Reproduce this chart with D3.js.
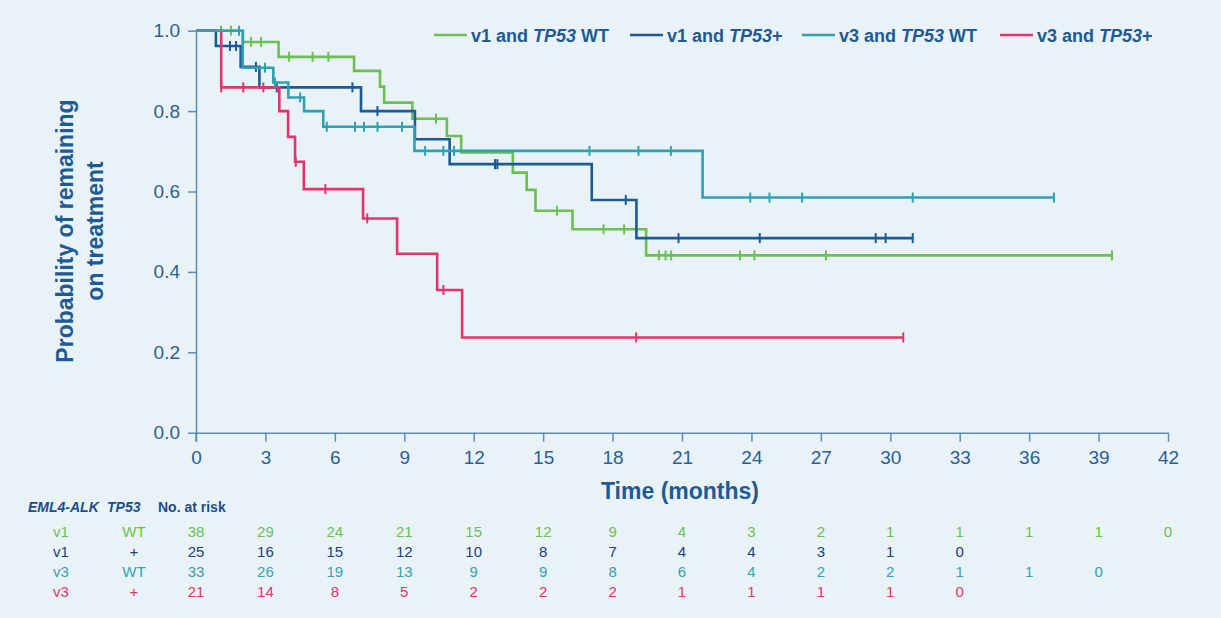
<!doctype html>
<html lang="en">
<head>
  <meta charset="utf-8">
  <title>Time on treatment by EML4-ALK variant and TP53 status</title>
  <script src="https://cdnjs.cloudflare.com/ajax/libs/d3/7.8.5/d3.min.js"></script>
  <style>
    body{
      margin:0;
      background:#e9f2f6;
    }
    svg text{
      font-family:"Liberation Sans", Arial, Helvetica, sans-serif;
    }
    .axis path,
    .axis line{
      stroke:#5b8cbc;
      stroke-width:1.5px;
    }
    .axis text{
      fill:#2b5f93;
      font-size:19px;
    }
  </style>
</head>
<body>
  <svg width="1221" height="618"></svg>
  <script>

  // time axis ticks (months)
  const xTicks=[0,3,6,9,12,15,18,21,24,27,30,33,36,39,42];
  const yTicks=[0,0.2,0.4,0.6,0.8,1.0];

  // v1 and TP53 WT : step times and survival after each step
  const v1wtTimes=[0,2.03,3.57,6.83,7.95,8.13,9.35,10.84,11.46,13.69,14.29,14.67,16.27,19.45];
  const v1wtSurv =[1,0.972,0.935,0.900,0.861,0.821,0.781,0.738,0.697,0.647,0.604,0.552,0.506,0.441];
  const v1wtCens =[1.08,1.51,2.38,2.81,4.02,5.04,5.72,10.37,15.6,17.61,18.5,20.0,20.29,20.53,23.51,24.13,27.22,39.58];

  // v1 and TP53+
  const v1mutTimes=[0,0.86,1.93,2.74,7.13,9.46,10.96,17.10,19.03];
  const v1mutSurv =[1,0.962,0.910,0.859,0.800,0.730,0.668,0.579,0.484];
  const v1mutCens =[1.47,1.73,2.59,3.49,6.76,7.84,12.92,13.02,18.57,20.85,24.36,29.37,29.8,30.97];

  // v3 and TP53 WT
  const v3wtTimes=[0,2.02,3.34,3.99,4.67,5.50,9.44,21.89];
  const v3wtSurv =[1,0.908,0.871,0.834,0.800,0.761,0.701,0.585];
  const v3wtCens =[1.86,2.98,3.41,4.50,5.65,6.87,7.26,7.84,8.9,9.9,10.69,11.15,17.0,19.12,20.52,23.95,24.78,26.19,30.97,37.07];

  // v3 and TP53+
  const v3mutTimes=[0,1.09,3.60,3.98,4.28,4.66,7.22,8.69,10.42,11.50];
  const v3mutSurv =[1,0.859,0.800,0.736,0.674,0.606,0.533,0.445,0.355,0.237];
  const v3mutCens =[1.09,2.04,2.91,4.31,5.59,7.40,10.69,19.02,30.56];

  // numbers at risk at each x tick
  const riskV1wt =[38,29,24,21,15,12,9,4,3,2,1,1,1,1,0];
  const riskV1mut=[25,16,15,12,10,8,7,4,4,3,1,0];
  const riskV3wt =[33,26,19,13,9,9,8,6,4,2,2,1,1,0];
  const riskV3mut=[21,14,8,5,2,2,2,1,1,1,1,0];

  const series=[
    {variant:"v1",tp53:"WT",legend:["v1 and ","TP53"," WT"],color:"#6cbf52",text:"#6cbf52",times:v1wtTimes,surv:v1wtSurv,cens:v1wtCens,risk:riskV1wt},
    {variant:"v1",tp53:"+",legend:["v1 and ","TP53","+"],color:"#1b5b96",text:"#1f3f7c",times:v1mutTimes,surv:v1mutSurv,cens:v1mutCens,risk:riskV1mut},
    {variant:"v3",tp53:"WT",legend:["v3 and ","TP53"," WT"],color:"#2ea2b1",text:"#35a3b0",times:v3wtTimes,surv:v3wtSurv,cens:v3wtCens,risk:riskV3wt},
    {variant:"v3",tp53:"+",legend:["v3 and ","TP53","+"],color:"#e4336e",text:"#e4336e",times:v3mutTimes,surv:v3mutSurv,cens:v3mutCens,risk:riskV3mut}
  ];
  // teal sits on top of the others in the original
  const drawOrder=[0,1,3,2];

  const svg=d3.select("svg");
  const textBlue="#1d5a96";

  const xScale=d3.scaleLinear().domain([0,42]).range([196,1168]);
  const yScale=d3.scaleLinear().domain([0,1]).range([432.7,30.7]);

  // axes
  svg.append("g")
  .attr("class","axis")
  .attr("transform",`translate(0,${yScale(0)})`)
  .call(d3.axisBottom(xScale).tickValues(xTicks).tickSize(9).tickSizeOuter(0).tickPadding(9));

  svg.append("g")
  .attr("class","axis")
  .attr("transform",`translate(${xScale(0)},0)`)
  .call(d3.axisLeft(yScale).tickValues(yTicks).tickFormat(d3.format(".1f")).tickSize(8).tickSizeOuter(0).tickPadding(8));

  // y axis must reach down to the x tick at 0
  svg.append("line")
  .attr("x1",xScale(0)).attr("x2",xScale(0))
  .attr("y1",yScale(0)).attr("y2",yScale(0)+9)
  .attr("stroke","#5b8cbc").attr("stroke-width",1.5);

  // axis titles
  svg.append("text")
  .attr("x",(xScale(0)+xScale(42))/2 - 2)
  .attr("y",499)
  .attr("text-anchor","middle")
  .style("font-size","23px")
  .style("font-weight","bold")
  .style("fill",textBlue)
  .text("Time (months)");

  const yTitle=svg.append("text")
  .attr("transform","translate(0,231) rotate(-90)")
  .attr("text-anchor","middle")
  .style("font-size","23px")
  .style("font-weight","bold")
  .style("fill",textBlue);
  yTitle.append("tspan").attr("x",0).attr("y",73).text("Probability of remaining");
  yTitle.append("tspan").attr("x",0).attr("y",103).text("on treatment");

  // curves
  const stepLine=d3.line()
  .x(d=>xScale(d[0]))
  .y(d=>yScale(d[1]))
  .curve(d3.curveStepAfter);

  function survAt(s,t){
    let v=s.surv[0];
    s.times.forEach((tt,i)=>{ if(tt<=t) v=s.surv[i]; });
    return v;
  }

  const curves=svg.append("g");
  drawOrder.forEach(k=>{
    const s=series[k];
    const pts=s.times.map((t,i)=>[t,s.surv[i]]);
    const end=d3.max(s.cens.concat(s.times));
    pts.push([end,survAt(s,end)]);
    curves.append("path")
    .attr("d",stepLine(pts))
    .attr("fill","none")
    .attr("stroke",s.color)
    .attr("stroke-width",2.6);

    curves.selectAll(null)
    .data(s.cens)
    .enter()
    .append("line")
    .attr("x1",d=>xScale(d)).attr("x2",d=>xScale(d))
    .attr("y1",d=>yScale(survAt(s,d))-5)
    .attr("y2",d=>yScale(survAt(s,d))+5)
    .attr("stroke",s.color)
    .attr("stroke-width",2);
  });

  // legend
  const legendX=[434,630,802,1000];
  series.forEach((s,i)=>{
    const g=svg.append("g").attr("transform",`translate(${legendX[i]},35)`);
    g.append("line").attr("x1",0).attr("x2",33).attr("y1",0).attr("y2",0)
    .attr("stroke",s.color).attr("stroke-width",2.6);
    const t=g.append("text").attr("x",37).attr("y",6.5)
    .style("font-size","18px").style("font-weight","bold").style("fill",textBlue);
    t.append("tspan").text(s.legend[0]);
    t.append("tspan").style("font-style","italic").text(s.legend[1]);
    t.append("tspan").text(s.legend[2]);
  });

  // number at risk table
  const header=svg.append("g").style("font-size","14px").style("font-weight","bold").style("fill","#1a4f8a");
  header.append("text").attr("x",28).attr("y",512).style("font-style","italic").text("EML4-ALK");
  header.append("text").attr("x",107).attr("y",512).style("font-style","italic").text("TP53");
  header.append("text").attr("x",158).attr("y",512).text("No. at risk");

  const rowY=[532,552,572,592];
  series.forEach((s,i)=>{
    const row=svg.append("g")
    .attr("transform",`translate(0,${rowY[i]})`)
    .style("font-size","15px")
    .style("fill",s.text);
    row.append("text").attr("x",61).attr("dy","0.35em").attr("text-anchor","middle").text(s.variant);
    row.append("text").attr("x",134).attr("dy","0.35em").attr("text-anchor","middle").text(s.tp53);
    row.selectAll(null)
    .data(s.risk)
    .enter()
    .append("text")
    .attr("x",(d,j)=>xScale(xTicks[j]))
    .attr("dy","0.35em")
    .attr("text-anchor","middle")
    .text(d=>d);
  });

  </script>
</body>
</html>
